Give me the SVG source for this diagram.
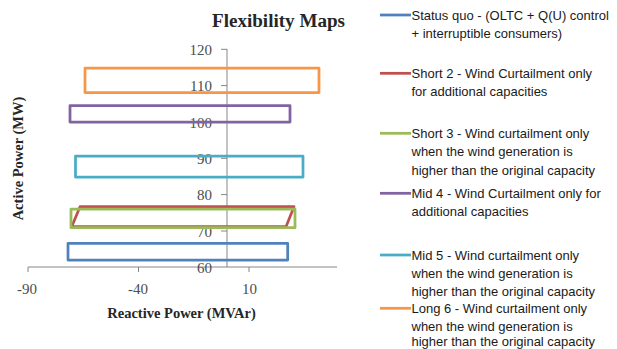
<svg xmlns="http://www.w3.org/2000/svg" width="617" height="349" viewBox="0 0 617 349">
  <style>
    .axis { stroke: #868686; stroke-width: 1; fill: none; }
    .tick { font-family: "Liberation Serif", serif; font-size: 15px; fill: #4d4d4d; }
    .ttl { font-family: "Liberation Serif", serif; font-weight: bold; fill: #262626; }
    .series { fill: none; stroke-width: 2.75; stroke-linejoin: round; }
    .leg { font-family: "Liberation Sans", Arial, sans-serif; font-size: 13px; fill: #1a1a1a; }
    .legline { stroke-width: 2.75; }
    .s1 { stroke: #4F81BD; } .s2 { stroke: #C0504D; } .s3 { stroke: #9BBB59; }
    .s4 { stroke: #8064A2; } .s5 { stroke: #4BACC6; } .s6 { stroke: #F79646; }
  </style>
  <rect width="617" height="349" fill="#ffffff"/>

  <!-- chart title -->
  <text class="ttl" x="278.5" y="27" font-size="18" text-anchor="middle" textLength="133" lengthAdjust="spacingAndGlyphs">Flexibility Maps</text>

  <!-- axes -->
  <g id="axes">
    <path class="axis" d="M28 267H337 M28 267v5 M138.5 267v5 M249 267v5"/>
    <path class="axis" d="M227 49V267 M221 49.3h6 M221 85.6h6 M221 122h6 M221 158.3h6 M221 194.6h6 M221 231h6"/>
    <g class="tick" text-anchor="end">
      <text x="212" y="54.5">120</text>
      <text x="212" y="91">110</text>
      <text x="212" y="127.5">100</text>
      <text x="212" y="163.8">90</text>
      <text x="212" y="200">80</text>
      <text x="212" y="236.5">70</text>
      <text x="212" y="272.5">60</text>
    </g>
    <g class="tick" text-anchor="middle">
      <text x="27" y="293.5">-90</text>
      <text x="138" y="293.5">-40</text>
      <text x="249.5" y="293.5">10</text>
    </g>
    <text class="ttl" x="181.5" y="317.5" font-size="14.5" text-anchor="middle">Reactive Power (MVAr)</text>
    <text class="ttl" transform="translate(23 158.5) rotate(-90)" font-size="14.5" text-anchor="middle">Active Power (MW)</text>
  </g>

  <!-- flexibility regions, drawn in series order -->
  <g id="status-quo"><rect class="series s1" x="68" y="243.3" width="219.7" height="16.7"/></g>
  <g id="short-2"><path class="series s2" d="M80 206.7H294 L286 226.7H71.7Z"/></g>
  <g id="short-3"><rect class="series s3" x="71" y="209" width="224" height="18.7"/></g>
  <g id="mid-4"><rect class="series s4" x="70" y="105.5" width="220" height="16.5"/></g>
  <g id="mid-5"><rect class="series s5" x="75.5" y="156" width="227.5" height="21"/></g>
  <g id="long-6"><rect class="series s6" x="85" y="68" width="234" height="24.5"/></g>

  <!-- legend -->
  <g id="legend-status-quo">
    <line class="legline s1" x1="380" y1="15" x2="411" y2="15"/>
    <text class="leg" x="411.5" y="19.5">Status quo - (OLTC + Q(U) control</text>
    <text class="leg" x="411.5" y="37.8">+ interruptible consumers)</text>
  </g>
  <g id="legend-short-2">
    <line class="legline s2" x1="380" y1="73.3" x2="411" y2="73.3"/>
    <text class="leg" x="411.5" y="78">Short 2 - Wind Curtailment only</text>
    <text class="leg" x="411.5" y="96">for additional capacities</text>
  </g>
  <g id="legend-short-3">
    <line class="legline s3" x1="380" y1="133.3" x2="411" y2="133.3"/>
    <text class="leg" x="411.5" y="138">Short 3 - Wind curtailment only</text>
    <text class="leg" x="411.5" y="156.3">when the wind generation is</text>
    <text class="leg" x="411.5" y="174.6">higher than the original capacity</text>
  </g>
  <g id="legend-mid-4">
    <line class="legline s4" x1="380" y1="193.3" x2="411" y2="193.3"/>
    <text class="leg" x="411.5" y="198">Mid 4 - Wind Curtailment only for</text>
    <text class="leg" x="411.5" y="216">additional capacities</text>
  </g>
  <g id="legend-mid-5">
    <line class="legline s5" x1="380" y1="255" x2="411" y2="255"/>
    <text class="leg" x="411.5" y="259.5">Mid 5 - Wind curtailment only</text>
    <text class="leg" x="411.5" y="278">when the wind generation is</text>
    <text class="leg" x="411.5" y="296.3">higher than the original capacity</text>
  </g>
  <g id="legend-long-6">
    <line class="legline s6" x1="380" y1="308.3" x2="411" y2="308.3"/>
    <text class="leg" x="411.5" y="313">Long 6 - Wind curtailment only</text>
    <text class="leg" x="411.5" y="330.5">when the wind generation is</text>
    <text class="leg" x="411.5" y="345.5">higher than the original capacity</text>
  </g>
</svg>
